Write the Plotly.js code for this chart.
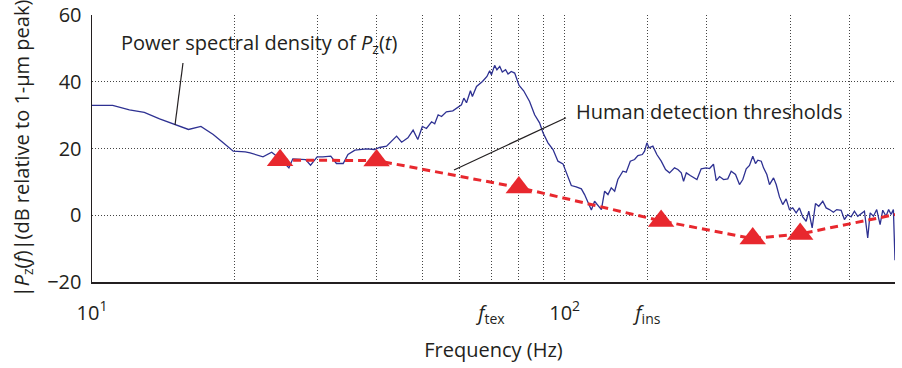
<!DOCTYPE html>
<html>
<head>
<meta charset="utf-8">
<script src="https://cdn.plot.ly/plotly-3.0.1.min.js"></script>
<style>html,body{margin:0;padding:0;background:#fff;}#chart{width:902px;height:368px;}</style>
</head>
<body>
<div id="chart"></div>
<script>
// Power spectral density of Pz(t): frequency (Hz) and level (dB rel. 1-um peak)
var psdFreq = [10.0, 11.06, 12.0, 12.9, 13.9, 15.05, 16.0, 17.0, 18.05, 18.95, 19.9, 21.1, 21.6, 23.0, 24.0, 25.1, 26.1, 26.6, 27.8, 28.3,
  29.0, 29.95, 30.8, 32.0, 32.9, 34.0, 34.8, 36.0, 38.1, 39.6, 40.6, 42.0, 44.1, 45.2, 46.6, 47.8, 48.9, 50.0, 51.0, 52.3,
  53.1, 54.0, 54.9, 56.2, 58.0, 59.2, 60.5, 61.2, 62.0, 63.2, 63.8, 65.1, 67.0, 68.5, 69.4, 70.0, 71.1, 71.9, 72.9, 73.8,
  75.0, 75.9, 77.1, 78.4, 80.1, 81.9, 84.3, 86.4, 88.5, 90.0, 92.2, 94.5, 96.8, 99.2, 101.6, 103.3, 105.8, 108.5, 110.2, 112.0,
  113.9, 115.7, 117.6, 119.6, 121.5, 123.5, 125.5, 127.6, 129.6, 132.8, 135.0, 137.7, 140.6, 142.9, 146.0, 147.6, 149.3, 150.8, 153.7, 156.7,
  160.1, 163.5, 166.7, 170.8, 173.6, 176.5, 178.5, 180.9, 184.4, 188.3, 190.5, 194.5, 199.3, 202.6, 206.5, 209.3, 212.7, 216.9, 221.4, 225.1,
  229.9, 234.4, 238.2, 242.2, 246.1, 250.1, 253.4, 256.3, 260.6, 263.5, 267.8, 271.3, 276.7, 280.3, 284.8, 289.4, 294.2, 299.0, 303.8, 308.9,
  313.9, 319.0, 324.3, 328.5, 334.0, 339.4, 344.9, 351.7, 357.5, 363.3, 370.4, 376.4, 384.6, 390.8, 397.1, 403.7, 410.3, 417.0, 424.0, 430.8,
  437.8, 443.0, 450.2, 457.4, 465.0, 471.0, 478.6, 484.7, 490.5, 496.1, 500.0];
var psdDb = [32.9, 32.9, 31.6, 30.8, 28.9, 27.2, 25.7, 26.6, 24.2, 21.7, 19.2, 19.0, 18.7, 17.5, 18.9, 16.7, 14.2, 16.9, 16.7, 16.7,
  15.0, 17.5, 17.5, 17.7, 15.5, 15.5, 18.2, 19.5, 19.9, 19.7, 20.3, 20.7, 23.7, 21.9, 23.2, 25.5, 22.7, 26.6, 26.0, 28.0,
  27.4, 30.1, 29.6, 31.0, 31.3, 32.3, 33.1, 35.1, 33.7, 37.3, 35.6, 38.6, 40.1, 41.6, 43.3, 42.1, 44.9, 43.6, 44.6, 42.9,
  43.6, 42.3, 43.1, 42.6, 38.9, 37.3, 34.1, 30.1, 27.7, 24.7, 21.7, 19.7, 16.2, 15.4, 11.3, 8.9, 8.5, 7.9, 6.2, 3.9,
  1.6, 4.2, 2.9, 1.7, 7.2, 6.2, 8.2, 7.2, 10.7, 13.2, 12.9, 16.2, 16.7, 17.9, 18.2, 19.2, 21.7, 20.2, 20.7, 18.2,
  16.2, 13.7, 12.7, 14.2, 13.7, 12.7, 10.2, 12.7, 11.9, 11.2, 10.7, 13.9, 14.2, 14.0, 15.3, 10.4, 11.6, 10.7, 10.9, 13.2,
  12.2, 9.2, 10.7, 13.9, 14.9, 17.7, 15.5, 16.5, 16.2, 14.2, 12.2, 9.2, 11.2, 9.2, 5.5, 3.2, 4.9, 1.7, 2.2, 0.7,
  2.2, -0.5, -1.8, 1.2, -3.8, 3.5, 2.7, 4.2, 2.2, 1.7, 0.9, 1.7, 1.5, -1.3, 0.2, -0.5, 1.2, -0.3, 0.5, 1.2,
  -6.8, 0.7, -0.3, 1.7, -2.8, 1.5, -0.3, 1.7, 0.2, 1.7, -13.5];

// Human detection thresholds (markers) and the dashed threshold curve
var threshFreq = [25, 40, 80, 160, 250, 315];
var threshDb = [16.5, 16.4, 8.3, -1.7, -7.0, -5.6];
var threshLineFreq = [25, 40, 80, 160, 250, 315, 500];
var threshLineDb = [16.5, 16.4, 8.3, -1.7, -7.0, -5.6, 0.2];

// Axis ticks: labelled ticks and unlabelled grid positions
var xTickVals = [10, 70, 100, 150];
var xTickText = ['10<sup>1</sup>', '<i>f</i><sub>tex</sub>', '10<sup>2</sup>', '<i>f</i><sub>ins</sub>'];
var xMinorVals = [20, 30, 40, 50, 60, 80, 90, 200, 300, 400, 500];
var yTickVals = [-20, 0, 20, 40, 60];

var ink = '#231f20';
var font = 'Open Sans, Noto Sans, sans-serif';
var gridDash = '1px,2px';
var gridColor = '#444';

var traces = [
  {x: psdFreq, y: psdDb, type: 'scatter', mode: 'lines',
   line: {color: '#2e3192', width: 1.3}, hoverinfo: 'skip'},
  {x: threshLineFreq, y: threshLineDb, type: 'scatter', mode: 'lines',
   line: {color: '#e8282e', width: 3, dash: '8px,5px'}, hoverinfo: 'skip'},
  {x: threshFreq, y: threshDb, type: 'scatter', mode: 'markers',
   marker: {symbol: 'triangle-up', size: 23, color: '#e8282e', line: {width: 0}}, hoverinfo: 'skip'}
];

var layout = {
  width: 902, height: 368,
  margin: {l: 92, r: 7, t: 15, b: 86},
  paper_bgcolor: '#fff', plot_bgcolor: '#fff',
  showlegend: false,
  font: {family: font, size: 20, color: ink},
  xaxis: {
    type: 'log', range: [1, 2.69897],
    tickmode: 'array', tickvals: xTickVals, ticktext: xTickText,
    ticks: '', ticklabelstandoff: 12,
    showgrid: true, gridcolor: gridColor, gridwidth: 1, griddash: gridDash,
    minor: {tickmode: 'array', tickvals: xMinorVals, ticks: '', showgrid: true,
            gridcolor: gridColor, gridwidth: 1, griddash: gridDash},
    showline: true, linecolor: ink, linewidth: 1.5,
    zeroline: false,
    tickfont: {size: 20, color: ink},
    title: {text: 'Frequency (Hz)', standoff: 16, font: {size: 20, color: ink}}
  },
  yaxis: {
    range: [-20, 60],
    tickmode: 'array', tickvals: yTickVals,
    ticks: '', ticklabelstandoff: 5,
    showgrid: true, gridcolor: gridColor, gridwidth: 1, griddash: gridDash,
    showline: true, linecolor: ink, linewidth: 1.5,
    zeroline: false,
    tickfont: {size: 20, color: ink},
    title: {text: '|<i>P</i><sub>z</sub>(<i>f</i>)|(dB relative to 1-µm peak)', standoff: 12, font: {size: 20, color: ink}}
  },
  annotations: [
    {xref: 'paper', yref: 'paper', x: 0.034, y: 0.893, xanchor: 'left', yanchor: 'middle',
     text: 'Power spectral density of <i>P</i><sub>z</sub>(<i>t</i>)', showarrow: false,
     font: {size: 20, color: ink}},
    {xref: 'paper', yref: 'paper', x: 0.600, y: 0.6378, xanchor: 'left', yanchor: 'middle',
     text: 'Human detection thresholds', showarrow: false,
     font: {size: 20, color: ink}}
  ],
  shapes: [
    {type: 'line', xref: 'paper', yref: 'paper', x0: 0.1133, y0: 0.8202, x1: 0.1034, y1: 0.588,
     line: {color: ink, width: 1.2}},
    {type: 'line', xref: 'paper', yref: 'paper', x0: 0.5903, y0: 0.6154, x1: 0.4508, y1: 0.4195,
     line: {color: ink, width: 1.2}}
  ]
};

Plotly.newPlot('chart', traces, layout, {staticPlot: true, displayModeBar: false});
</script>
</body>
</html>
